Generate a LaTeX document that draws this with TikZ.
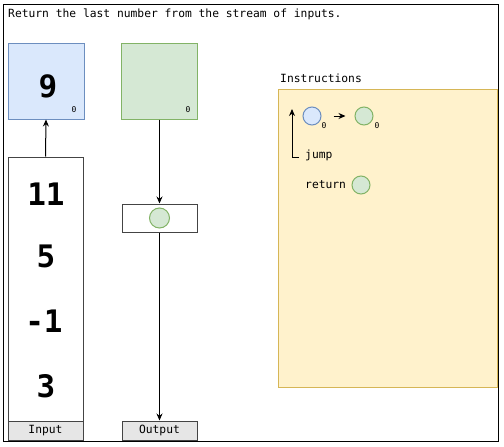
\documentclass[tikz,border=0pt]{standalone}
\usepackage{fontspec}
\setmonofont{DejaVu Sans Mono}
\usetikzlibrary{arrows.meta}
\definecolor{bluefill}{HTML}{DAE8FC}
\definecolor{bluedraw}{HTML}{6C8EBF}
\definecolor{greenfill}{HTML}{D5E8D4}
\definecolor{greendraw}{HTML}{82B366}
\definecolor{yellowfill}{HTML}{FFF2CC}
\definecolor{yellowdraw}{HTML}{D6B656}
\definecolor{grayfill}{HTML}{E6E6E6}
\definecolor{boxdraw}{HTML}{444444}
\begin{document}
\begin{tikzpicture}[x=1pt,y=-1pt,
  box/.style={draw=boxdraw, line width=1pt, inner sep=0pt, minimum width=#1},
  regblue/.style={draw=bluedraw, fill=bluefill, line width=1pt, inner sep=0pt, minimum width=76pt, minimum height=76pt},
  reggreen/.style={draw=greendraw, fill=greenfill, line width=1pt, inner sep=0pt, minimum width=76pt, minimum height=76pt},
  labbox/.style={draw=boxdraw, fill=grayfill, line width=1pt, inner sep=0pt, minimum width=75pt, minimum height=19pt, font=\fontsize{11.3}{13}\selectfont\ttfamily},
  bignum/.style={inner sep=0pt, font=\fontsize{31}{36}\selectfont\ttfamily\bfseries},
  tiny/.style={inner sep=0pt, font=\fontsize{8}{9}\selectfont\ttfamily},
  mono/.style={inner sep=0pt, font=\fontsize{11.3}{13}\selectfont\ttfamily},
  bcirc/.style={circle, draw=bluedraw, fill=bluefill, line width=1pt, inner sep=0pt, minimum size=#1},
  gcirc/.style={circle, draw=greendraw, fill=greenfill, line width=1pt, inner sep=0pt, minimum size=#1},
  arr/.style={line width=1pt, -{Stealth[length=7pt,width=6pt]}}
]
\useasboundingbox (0,0) rectangle (504,447);
\node[draw, line width=1.3pt, inner sep=0pt, minimum width=495pt, minimum height=437pt, anchor=north west] (frame) at (3,4) {};
\node[mono, anchor=west] (title) at (8,14) {Return the last number from the stream of inputs.};

% registers
\node[regblue] (reg) at (46,81) {};
\node[bignum] (regval) at (48,86) {9};
\node[tiny] (regidx) at (74,110) {0};
\node[reggreen] (out) at (159.5,81) {};
\node[tiny] (outidx) at (188,110) {0};

% input column
\node[box=75pt, minimum height=264pt] (incol) at (45.5,289) {};
\node[bignum] (n1) at (46,194) {11};
\node[bignum] (n2) at (46,256) {5};
\node[bignum] (n3) at (44,321) {-1};
\node[bignum] (n4) at (46,386) {3};
\node[labbox] (inlab) at (45.5,430.5) {Input};
\draw[arr] (incol.north) -- (reg.south);

% output column
\node[box=75pt, minimum height=28pt] (outbox) at (159.5,218) {};
\node[gcirc=20pt] (outc) at (159.5,218) {};
\node[labbox] (outlab) at (159.5,430.5) {Output};
\draw[arr] (out.south) -- (outbox.north);
\draw[arr] (outbox.south) -- (outlab.north);

% instructions
\node[mono, anchor=west] (insttitle) at (280,78) {Instructions};
\node[draw=yellowdraw, fill=yellowfill, line width=1pt, inner sep=0pt, minimum width=219pt, minimum height=298pt] (panel) at (387.5,238) {};
\node[bcirc=18pt] (c1) at (312,116) {};
\node[tiny] (c1idx) at (324,126) {0};
\node[gcirc=18pt] (c2) at (364,116) {};
\node[tiny] (c2idx) at (377,126) {0};
\draw[arr] ([xshift=12pt]c1.east) -- ([xshift=-9pt]c2.west);
\node[mono, anchor=west] (jump) at (305,155) {jump};
\coordinate (jstart) at (299,157);
\coordinate (jcorner) at (292,157);
\coordinate (jend) at (292,109);
\draw[arr] (jstart) -- (jcorner) -- (jend);
\node[mono, anchor=west] (ret) at (305,185) {return};
\node[gcirc=18pt] (c3) at (361,185) {};
\end{tikzpicture}
\end{document}
